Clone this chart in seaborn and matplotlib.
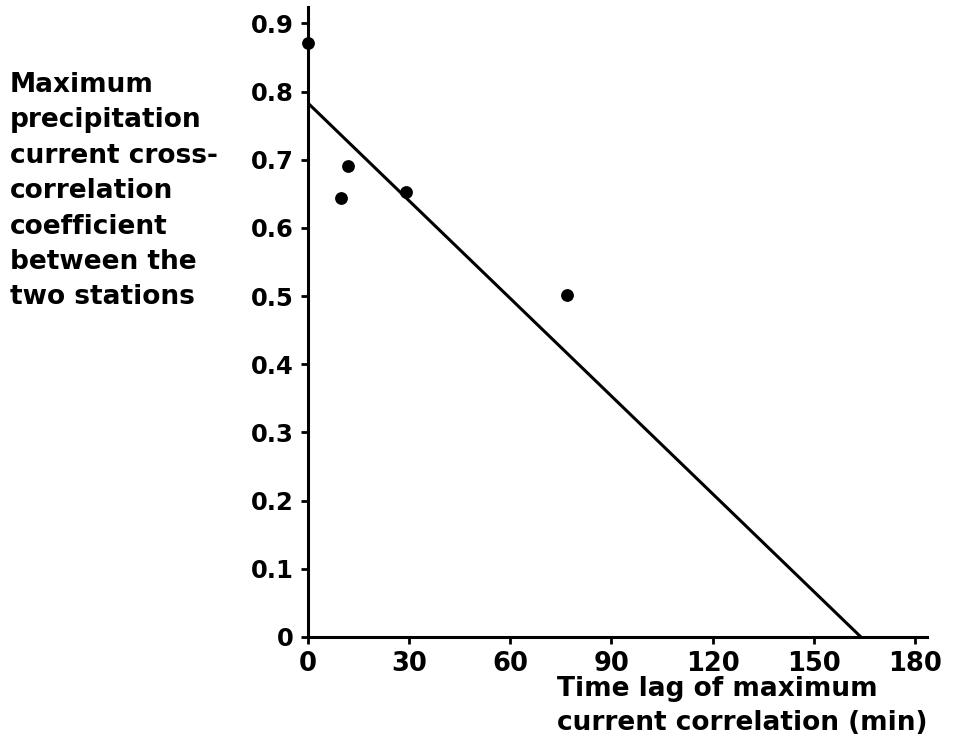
import matplotlib
matplotlib.use("Agg")
import matplotlib.pyplot as plt
import seaborn as sns
import pandas as pd

# data
lag_min = [0, 9.7, 12, 29, 76.7]
corr = [0.871, 0.644, 0.691, 0.652, 0.501]
fit_x = [0, 164]
fit_y = [0.783, 0.0]
xticks = [0, 30, 60, 90, 120, 150, 180]
yticks = [0, 0.1, 0.2, 0.3, 0.4, 0.5, 0.6, 0.7, 0.8, 0.9]
ytick_labels = ["0", "0.1", "0.2", "0.3", "0.4", "0.5", "0.6", "0.7", "0.8", "0.9"]
ylabel_text = "Maximum\nprecipitation\ncurrent cross-\ncorrelation\ncoefficient\nbetween the\ntwo stations"
xlabel_text = "Time lag of maximum\ncurrent correlation (min)"

sns.set_theme(style="white")
plt.rcParams["font.family"] = ["DejaVu Sans"]

fig = plt.figure(figsize=(9.67, 7.44), dpi=100)
ax = fig.add_axes([308 / 967, 107 / 744, 619 / 967, 630 / 744])

pts = pd.DataFrame({"lag": lag_min, "corr": corr})
fit = pd.DataFrame({"x": fit_x, "y": fit_y})
sns.lineplot(data=fit, x="x", y="y", ax=ax, color="black", linewidth=2.2)
sns.scatterplot(data=pts, x="lag", y="corr", ax=ax, color="black", s=85,
                edgecolor="black", linewidth=0, zorder=5, clip_on=False)

ax.set_xlim(0, 183.6)
ax.set_ylim(0, 0.924)
ax.set_xticks(xticks)
ax.set_xticklabels([str(t) for t in xticks])
ax.set_yticks(yticks)
ax.set_yticklabels(ytick_labels)
ax.set_xlabel("")
ax.set_ylabel("")

for s in ["top", "right"]:
    ax.spines[s].set_visible(False)
for s in ["left", "bottom"]:
    ax.spines[s].set_linewidth(2.2)
    ax.spines[s].set_color("black")

ax.tick_params(axis="both", direction="out", length=5, width=2, color="black",
               labelcolor="black")
ax.tick_params(axis="y", pad=5, labelsize=17.5)
ax.tick_params(axis="x", pad=5, labelsize=18.5)
ax.tick_params(left=True, bottom=True)
for lab in ax.get_xticklabels() + ax.get_yticklabels():
    lab.set_fontweight("bold")

fig.text(10 / 967, 1 - 72 / 744, ylabel_text, ha="left", va="top",
         fontsize=19, fontweight="bold", linespacing=1.47, color="black")
fig.text(557 / 967, 1 - 676 / 744, xlabel_text, ha="left", va="top",
         fontsize=19, fontweight="bold", linespacing=1.38, color="black")

fig.savefig("out.png", dpi=100, facecolor="white")
